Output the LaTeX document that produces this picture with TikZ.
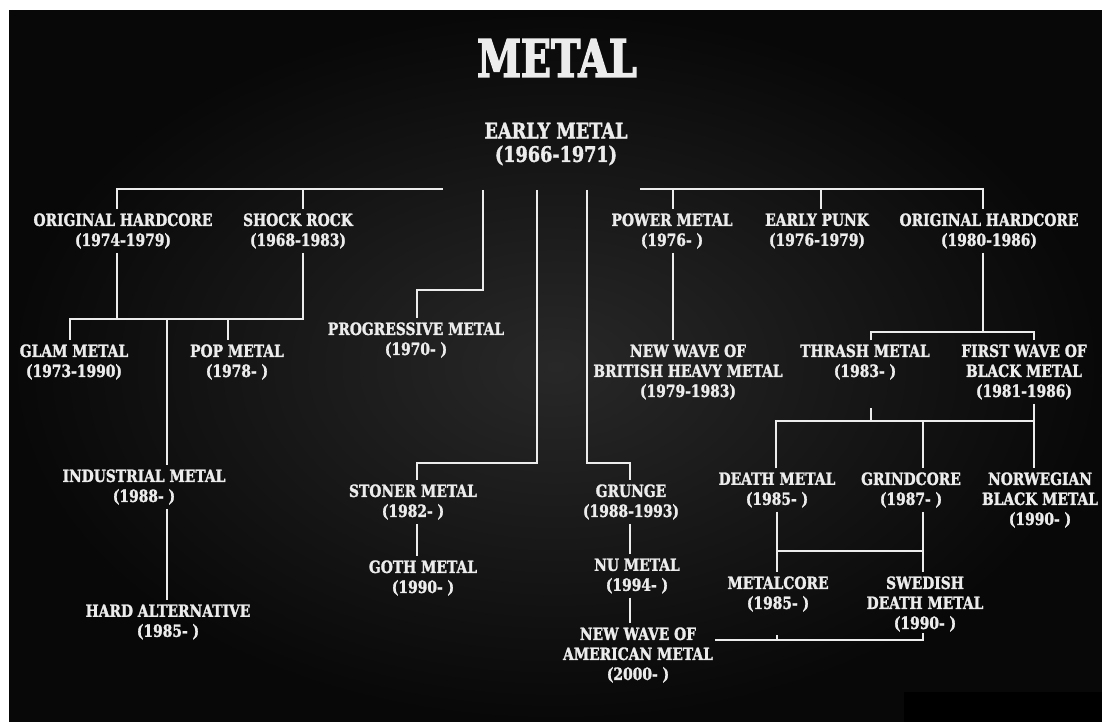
\documentclass[tikz,border=0pt]{standalone}
\usepackage{fontspec}
\setmainfont{DejaVu Serif}[FakeStretch=0.82,FakeBold=1.6]
\newfontfamily\titlefont{DejaVu Serif}[FakeStretch=0.76,FakeBold=2.5]
\definecolor{bgin}{RGB}{40,40,40}
\definecolor{bgout}{RGB}{8,8,8}
\definecolor{ink}{RGB}{236,236,236}

\begin{document}
\begin{tikzpicture}[x=1pt,y=-1pt,
  every node/.style={text=ink,align=center,inner xsep=2pt,inner ysep=4pt,font=\bfseries\fontsize{16.9}{20}\selectfont},
  link/.style={draw=ink,line width=1.8pt}]
\useasboundingbox (0,0) rectangle (1102,722);
\fill[white] (0,0) rectangle (1102,722);
\shade[inner color=bgin,outer color=bgout] (9,11) rectangle (1102,722);
\fill[black] (904,692) rectangle (1102,722);
% titles
\node[font=\titlefont\bfseries\fontsize{52}{52}\selectfont] (title) at (557,58) {METAL};
\node[font=\bfseries\fontsize{21.5}{23.5}\selectfont] (early) at (556,144) {EARLY METAL\\(1966-1971)};
% genres
\foreach \n/\x/\y/\t in {ohA/123/231/{ORIGINAL HARDCORE\\(1974-1979)}, shock/298/231/{SHOCK ROCK\\(1968-1983)},
  glam/74/362/{GLAM METAL\\(1973-1990)}, pop/237/362/{POP METAL\\(1978- )},
  indus/144/487/{INDUSTRIAL METAL\\(1988- )}, hardalt/168/622/{HARD ALTERNATIVE\\(1985- )},
  prog/416/340/{PROGRESSIVE METAL\\(1970- )}, stoner/413/502/{STONER METAL\\(1982- )}, goth/423/578/{GOTH METAL\\(1990- )},
  grunge/631/502/{GRUNGE\\(1988-1993)}, nu/637/576/{NU METAL\\(1994- )}, nwoam/638/655/{NEW WAVE OF\\AMERICAN METAL\\(2000- )},
  power/672/231/{POWER METAL\\(1976- )}, nwobhm/688/372/{NEW WAVE OF\\BRITISH HEAVY METAL\\(1979-1983)},
  punk/817/231/{EARLY PUNK\\(1976-1979)}, ohB/989/231/{ORIGINAL HARDCORE\\(1980-1986)},
  thrash/865/362/{THRASH METAL\\(1983- )}, fwbm/1024/372/{FIRST WAVE OF\\BLACK METAL\\(1981-1986)},
  death/777/490/{DEATH METAL\\(1985- )}, grind/911/490/{GRINDCORE\\(1987- )}, norw/1040/500/{NORWEGIAN\\BLACK METAL\\(1990- )},
  metalcore/778/594/{METALCORE\\(1985- )}, swedish/925/604/{SWEDISH\\DEATH METAL\\(1990- )}}
  \node (\n) at (\x,\y) {\t};
% left branch
\coordinate (a1) at (117,189); \coordinate (a2) at (303,189); \coordinate (a3) at (443,189);
\draw[link] (a1 |- ohA.north) -- (a1) -- (a3);
\draw[link] (a2) -- (a2 |- shock.north);
\coordinate (b1) at (117,319); \coordinate (b2) at (303,319); \coordinate (b3) at (70,319);
\coordinate (b4) at (228,319); \coordinate (b5) at (167,319);
\draw[link] (a1 |- ohA.south) -- (b1);
\draw[link] (a2 |- shock.south) -- (b2) -- (b3) -- (b3 |- glam.north);
\draw[link] (b4) -- (b4 |- pop.north);
\draw[link] (b5) -- (b5 |- indus.north);
\draw[link] (b5 |- indus.south) -- (b5 |- hardalt.north);
% middle branches
\coordinate (c1) at (483,190); \coordinate (c2) at (537,190); \coordinate (c3) at (587,190);
\coordinate (p1) at (417,290); \coordinate (p2) at (417,463); \coordinate (p3) at (630,463);
\draw[link] (c1) |- (p1) -- (p1 |- prog.north);
\draw[link] (c2) |- (p2) -- (p2 |- stoner.north);
\draw[link] (p2 |- stoner.south) -- (p2 |- goth.north);
\draw[link] (c3) |- (p3) -- (p3 |- grunge.north);
\draw[link] (p3 |- grunge.south) -- (p3 |- nu.north);
\draw[link] (p3 |- nu.south) -- (p3 |- nwoam.north);
% right branch
\coordinate (d0) at (640,189); \coordinate (d1) at (673,189); \coordinate (d2) at (821,189); \coordinate (d3) at (983,189);
\draw[link] (d0) -- (d3) -- (d3 |- ohB.north);
\draw[link] (d1) -- (d1 |- power.north);
\draw[link] (d2) -- (d2 |- punk.north);
\draw[link] (d1 |- power.south) -- (d1 |- nwobhm.north);
\coordinate (e0) at (983,332); \coordinate (e1) at (871,332); \coordinate (e2) at (1034,332);
\draw[link] (d3 |- ohB.south) -- (e0);
\draw[link] (e1 |- thrash.north) -- (e1) -- (e2) -- (e2 |- fwbm.north);
\coordinate (f0) at (871,408); \coordinate (f1) at (871,421); \coordinate (f2) at (776,421);
\coordinate (f3) at (923,421); \coordinate (f4) at (1034,421);
\draw[link] (f0) -- (f1);
\draw[link] (e2 |- fwbm.south) -- (e2 |- norw.north);
\draw[link] (f2 |- death.north) -- (f2) -- (f4);
\draw[link] (f3) -- (f3 |- grind.north);
\coordinate (g1) at (777,551); \coordinate (g2) at (923,551);
\draw[link] (g1 |- death.south) -- (g1 |- metalcore.north);
\draw[link] (g2 |- grind.south) -- (g2 |- swedish.north);
\draw[link] (g1) -- (g2);
\coordinate (h0) at (777,635); \coordinate (h1) at (777,640); \coordinate (h2) at (923,640); \coordinate (h3) at (923,633);
\draw[link] (nwoam.east |- h1) -- (h2) -- (h3);
\draw[link] (h0) -- (h1);
\end{tikzpicture}
\end{document}
